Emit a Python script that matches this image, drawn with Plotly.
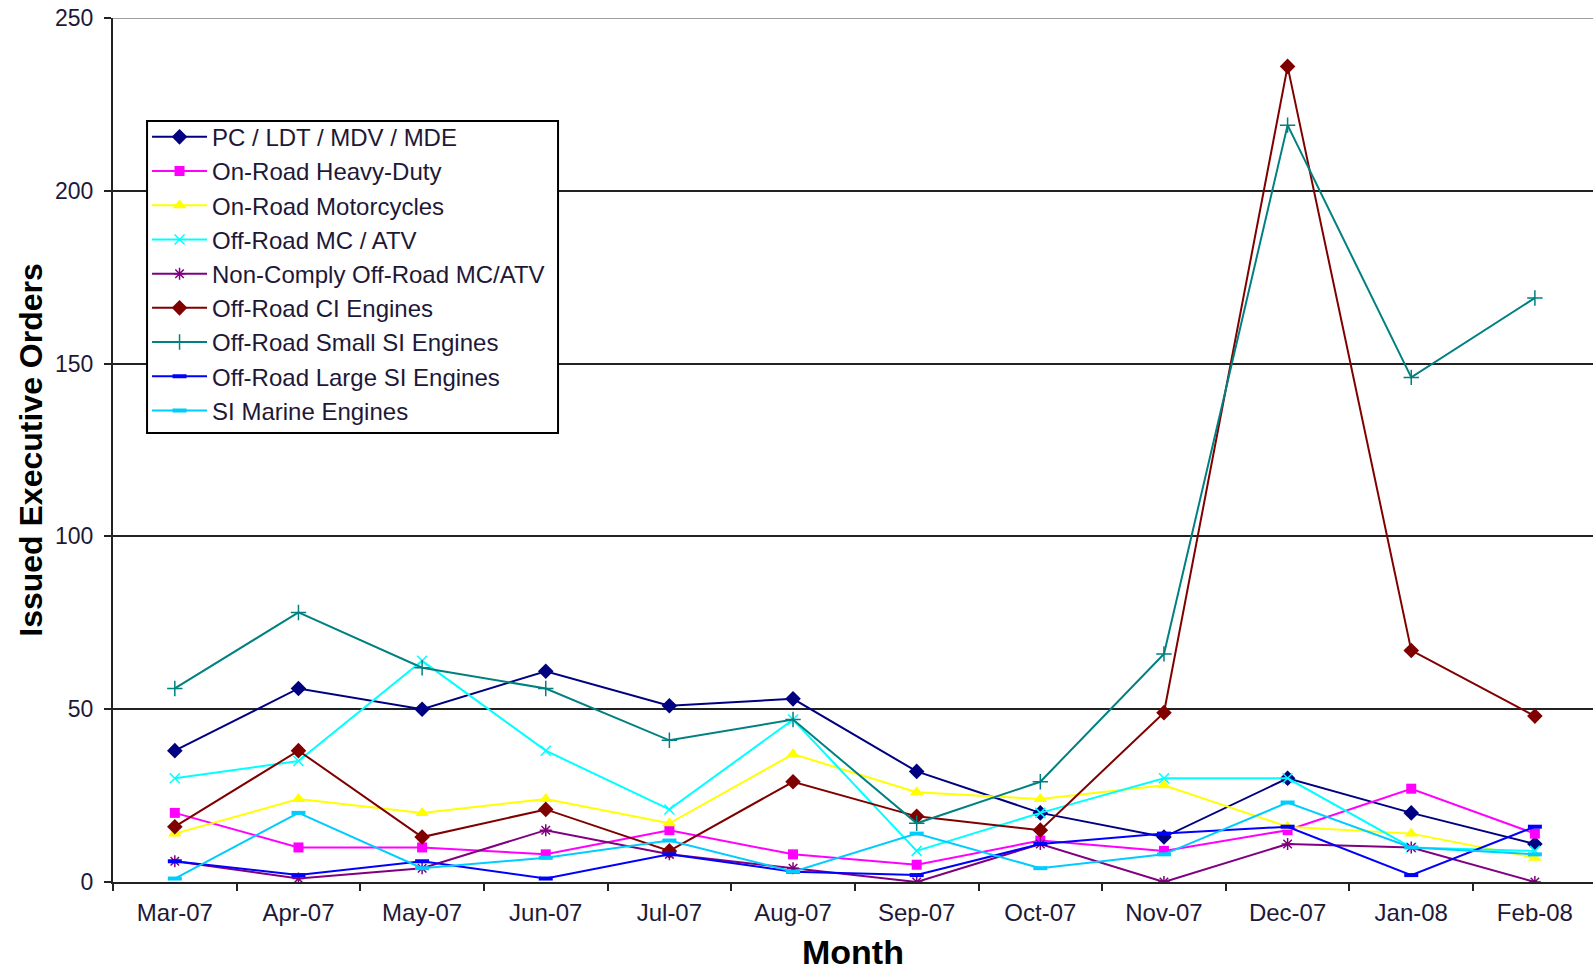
import plotly.graph_objects as go

months = ["Mar-07", "Apr-07", "May-07", "Jun-07", "Jul-07", "Aug-07",
          "Sep-07", "Oct-07", "Nov-07", "Dec-07", "Jan-08", "Feb-08"]

pc_ldt = [38, 56, 50, 61, 51, 53, 32, 20, 13, 30, 20, 11]
onroad_hd = [20, 10, 10, 8, 15, 8, 5, 12, 9, 15, 27, 14]
onroad_mc = [14, 24, 20, 24, 17, 37, 26, 24, 28, 16, 14, 7]
offroad_atv = [30, 35, 64, 38, 21, 47, 9, 20, 30, 30, 10, 9]
noncomply_atv = [6, 1, 4, 15, 8, 4, 0, 11, 0, 11, 10, 0]
offroad_ci = [16, 38, 13, 21, 9, 29, 19, 15, 49, 236, 67, 48]
small_si = [56, 78, 62, 56, 41, 47, 17, 29, 66, 219, 146, 169]
large_si = [6, 2, 6, 1, 8, 3, 2, 11, 14, 16, 2, 16]
si_marine = [1, 20, 4, 7, 12, 3, 14, 4, 8, 23, 10, 8]

y_ticks = [0, 50, 100, 150, 200, 250]

series = [
    ("PC / LDT / MDV / MDE", pc_ldt, "#000080", "diamond", 12, 0),
    ("On-Road Heavy-Duty", onroad_hd, "#FF00FF", "square", 10, 0),
    ("On-Road Motorcycles", onroad_mc, "#FFFF00", "triangle-up", 12, 0),
    ("Off-Road MC / ATV", offroad_atv, "#00FFFF", "x-thin", 10, 1.5),
    ("Non-Comply Off-Road MC/ATV", noncomply_atv, "#800080", "asterisk", 10, 1.5),
    ("Off-Road CI Engines", offroad_ci, "#800000", "diamond", 12, 0),
    ("Off-Road Small SI Engines", small_si, "#008080", "cross-thin", 11, 1.5),
    ("Off-Road Large SI Engines", large_si, "#0000FF", "line-ew", 10, 4),
    ("SI Marine Engines", si_marine, "#00CCFF", "line-ew", 10, 4),
]

fig = go.Figure()
for name, vals, color, sym, size, lw in series:
    marker = dict(symbol=sym, size=size, color=color)
    if lw:
        marker["line"] = dict(color=color, width=lw)
    fig.add_trace(go.Scatter(
        x=months, y=vals, name=name, mode="lines+markers",
        line=dict(color=color, width=2),
        marker=marker,
    ))

text_color = "#1e1838"
fig.update_layout(
    width=1593, height=974,
    margin=dict(l=113, r=0, t=18, b=92),
    paper_bgcolor="white", plot_bgcolor="white",
    font=dict(family="Liberation Sans, Arial, sans-serif", color=text_color, size=22),
    showlegend=True,
    legend=dict(
        x=0.023, y=0.888, xanchor="left", yanchor="top",
        bgcolor="rgba(0,0,0,0)", borderwidth=0,
        font=dict(size=24, color=text_color),
        itemwidth=55,
    ),
    xaxis=dict(
        type="category", categoryorder="array", categoryarray=months,
        range=[-0.5, 11.47], automargin=False,
        showline=True, linecolor="#222222", linewidth=2,
        ticks="outside", tickson="boundaries", ticklen=7, tickcolor="#222222", tickwidth=2,
        tickfont=dict(size=24, color=text_color), ticklabelstandoff=8,
        showgrid=False, zeroline=False,
    ),
    yaxis=dict(
        range=[0, 250], tickvals=y_ticks, automargin=False,
        showline=True, linecolor="#222222", linewidth=2,
        ticks="outside", ticklen=7, tickcolor="#222222", tickwidth=2,
        tickfont=dict(size=23, color=text_color), ticklabelstandoff=6,
        showgrid=True, gridcolor="#222222", gridwidth=2,
        zeroline=False,
        title=dict(text="<b>Issued Executive Orders</b>", font=dict(size=32, color="black"), standoff=3),
    ),
    annotations=[
        dict(text="<b>Month</b>", xref="paper", yref="paper", x=0.5, y=-0.081,
             xanchor="center", yanchor="middle", showarrow=False,
             font=dict(size=34, color="black")),
    ],
    shapes=[
        dict(type="line", xref="paper", yref="y", x0=0, x1=1, y0=250, y1=250,
             line=dict(color="#A0A0A0", width=2), layer="above"),
        dict(type="rect", xref="paper", yref="paper", x0=0.0230, x1=0.3007, y0=0.5197, y1=0.8808,
             fillcolor="white", line=dict(color="black", width=2), layer="above"),
    ],
)

fig.write_html("out.html")
